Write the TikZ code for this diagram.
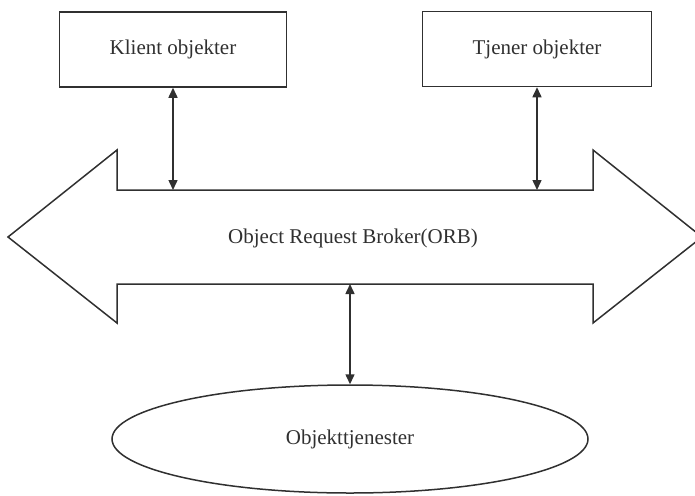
\documentclass[tikz,border=0pt]{standalone}
\usepackage{fontspec}
\setmainfont{Liberation Serif}
\usetikzlibrary{arrows.meta,shapes.geometric}
\definecolor{ink}{HTML}{303030}
\tikzset{
  objbox/.style={draw=ink, line width=1.5pt, minimum width=227pt, minimum height=75pt, inner sep=0pt},
  svcell/.style={draw=ink, line width=1.5pt, ellipse, minimum width=476pt, minimum height=108pt, inner sep=0pt},
  lbl/.style={text=ink, font=\fontsize{21}{24}\selectfont},
  link/.style={draw=ink, line width=1.5pt, {Triangle[length=10pt,width=9pt]}-{Triangle[length=10pt,width=9pt]}},
  broker/.style={draw=ink, line width=1.5pt, line join=miter}
}
\begin{document}
\begin{tikzpicture}[x=1pt,y=-1pt]
  \useasboundingbox (0,0) rectangle (695,495);
  \clip (0,0) rectangle (695,495);

  % client and server objects
  \node[objbox, lbl] (client) at (173,49.5) {Klient objekter};
  \node[objbox, lbl, minimum width=229pt] (server) at (537,49) {Tjener objekter};

  % the broker drawn as a wide double-headed arrow
  \coordinate (orbtop) at (0,190);
  \coordinate (orbbot) at (0,284);
  \draw[broker] (8,237) -- (117,150) -- (117,190) -- (593,190) -- (593,150)
    -- (702,237) -- (593,323) -- (593,284) -- (117,284) -- (117,323) -- cycle;
  \node[lbl] (orb) at (353,238) {Object Request Broker(ORB)};

  % object services
  \node[svcell, lbl] (svc) at (350,439) {Objekttjenester};

  % links to the broker
  \draw[link] (client.south) -- (client.south |- orbtop);
  \draw[link] (server.south) -- (server.south |- orbtop);
  \draw[link] (svc.north |- orbbot) -- (svc.north);
\end{tikzpicture}
\end{document}
